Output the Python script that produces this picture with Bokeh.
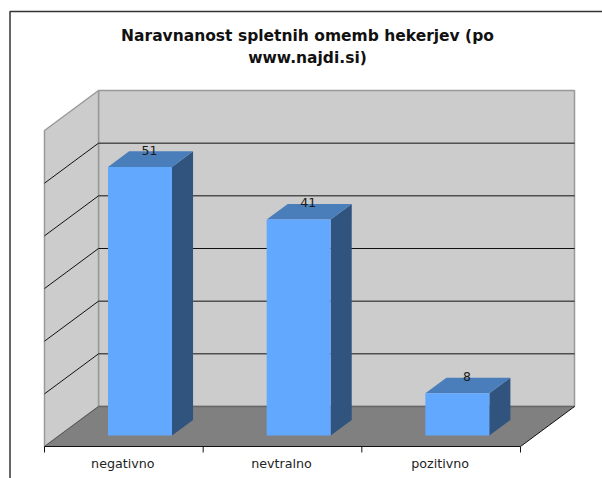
from bokeh.plotting import figure
from bokeh.models import Range1d
from bokeh.core.properties import value
from bokeh.embed import file_html
from bokeh.resources import INLINE

categories = ["negativno", "nevtralno", "pozitivno"]
values = [51, 41, 8]
grid_values = [0, 10, 20, 30, 40, 50, 60]
title_lines = ["Naravnanost spletnih omemb hekerjev (po", "www.najdi.si)"]

FONT = "DejaVu Sans"
X0, Y0 = 44.0, 446.0       # front-left floor corner
SLOT = 158.67
DX, DY = 54.0, -40.0       # full depth offset
UNIT = 316.0 / 60.0        # pixels per value unit
BAR_W = 64.0
BAR_D = 0.39
BAR_Z = 0.275
BAR_L = 48.5


def proj(x, v, z):
    """x in pixels along the front edge, v in value units, z depth 0..1."""
    return X0 + x + DX * z, Y0 - v * UNIT + DY * z


def poly(points):
    return [q[0] for q in points], [q[1] for q in points]


p = figure(width=602, height=478, output_backend="svg", toolbar_location=None,
           x_range=Range1d(0, 602), y_range=Range1d(478, 0), min_border=0,
           outline_line_color=None, background_fill_color="white", border_fill_color="white")
p.xaxis.visible = False
p.yaxis.visible = False
p.xgrid.visible = False
p.ygrid.visible = False

# outer chart frame (only left and top fall inside the picture)
p.line([9.5, 9.5, 602], [478, 11, 11], line_color="#333333", line_width=1.5)

width = SLOT * len(categories)
top = grid_values[-1]
WALL = "#CCCCCC"
EDGE = "#999999"

# walls and floor
xs, ys = poly([proj(0, 0, 1), proj(width, 0, 1), proj(width, top, 1), proj(0, top, 1)])
p.patch(xs, ys, fill_color=WALL, line_color=EDGE, line_width=1.5)
xs, ys = poly([proj(0, 0, 0), proj(0, 0, 1), proj(0, top, 1), proj(0, top, 0)])
p.patch(xs, ys, fill_color=WALL, line_color=EDGE, line_width=1.5)

# gridlines
for g in grid_values[1:-1]:
    xs, ys = poly([proj(0, g, 0), proj(0, g, 1), proj(width, g, 1)])
    p.line(xs, ys, line_color="#111111", line_width=1)

xs, ys = poly([proj(0, 0, 0), proj(width, 0, 0), proj(width, 0, 1), proj(0, 0, 1)])
p.patch(xs, ys, fill_color="#808080", line_color=None)
xs, ys = poly([proj(0, 0, 1), proj(width, 0, 1)])
p.line(xs, ys, line_color="#666666", line_width=1.5)
xs, ys = poly([proj(0, 0, 0), proj(0, 0, 1)])
p.line(xs, ys, line_color="#555555", line_width=1)
xs, ys = poly([proj(width, 0, 0), proj(width, 0, 1)])
p.line(xs, ys, line_color="#111111", line_width=1)

# bars
for i, v in enumerate(values):
    l = SLOT * i + BAR_L - DX * BAR_Z + 15
    r = l + BAR_W
    z0, z1 = BAR_Z, BAR_Z + BAR_D
    xs, ys = poly([proj(r, 0, z0), proj(r, 0, z1), proj(r, v, z1), proj(r, v, z0)])
    p.patch(xs, ys, fill_color="#30547E", line_color=None)
    xs, ys = poly([proj(l, v, z0), proj(r, v, z0), proj(r, v, z1), proj(l, v, z1)])
    p.patch(xs, ys, fill_color="#4A7EBB", line_color=None)
    xs, ys = poly([proj(l, 0, z0), proj(r, 0, z0), proj(r, v, z0), proj(l, v, z0)])
    p.patch(xs, ys, fill_color="#62A8FF", line_color=None)
    lx, ly = proj((l + r) / 2, v, (z0 + z1) / 2)
    p.text([lx - 1], [ly - 9], text=[str(v)], text_font=value(FONT), text_font_size="12.5px",
           text_color="#1a1a1a", text_align="center", text_baseline="middle")

# category axis
xs, ys = poly([proj(0, 0, 0), proj(width, 0, 0)])
p.line(xs, ys, line_color="#111111", line_width=1.2)
for i in range(len(categories) + 1):
    tx, ty = proj(SLOT * i, 0, 0)
    p.line([tx, tx], [ty, ty + 6], line_color="#111111", line_width=1)
for i, c in enumerate(categories):
    tx, ty = proj(SLOT * (i + 0.5), 0, 0)
    p.text([tx - 1], [ty + 16.5], text=[c], text_font=value(FONT), text_font_size="12.7px",
           text_color="#222222", text_align="center", text_baseline="middle")

# title
for line, y in zip(title_lines, [35, 57]):
    p.text([307], [y], text=[line], text_font=value(FONT), text_font_size="15.5px",
           text_font_style="bold", text_color="#111111", text_align="center", text_baseline="middle")

open("out.html", "w").write(file_html(p, INLINE))
